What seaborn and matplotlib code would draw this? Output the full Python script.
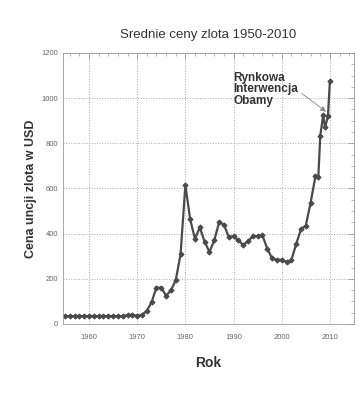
import numpy as np
import pandas as pd
import matplotlib.pyplot as plt
from matplotlib.ticker import MultipleLocator
import seaborn as sns

# Dane
lata = [1955, 1956, 1957, 1958, 1959, 1960, 1961, 1962, 1963, 1964,
        1965, 1966, 1967, 1968, 1969, 1970, 1971, 1972, 1973, 1974,
        1975, 1976, 1977, 1978, 1979, 1980, 1981, 1982, 1983, 1984,
        1985, 1986, 1987, 1988, 1989, 1990, 1991, 1992, 1993, 1994,
        1995, 1996, 1997, 1998, 1999, 2000, 2001, 2002, 2003, 2004,
        2005, 2006, 2007, 2007.6, 2008, 2008.6, 2009, 2009.6, 2010]
ceny = [35, 35, 35, 35, 35, 35, 35, 35, 35, 35,
        35, 35, 35, 39, 41, 36, 41, 58, 98, 161,
        161, 125, 149, 194, 308, 616, 463, 377, 428, 364,
        319, 370, 450, 440, 386, 388, 370, 350, 366, 389,
        389, 392, 334, 291, 283, 285, 275, 283, 354, 420,
        436, 537, 654, 651, 833, 924, 871, 920, 1078]

df = pd.DataFrame({"Rok": lata, "Cena": ceny})

sns.set_style("white")
plt.rcParams["font.family"] = ["Liberation Sans", "DejaVu Sans"]

fig = plt.figure(figsize=(3.59, 4.0), dpi=100)
ax = fig.add_axes([0.1755, 0.19, 0.8105, 0.6775])

sns.lineplot(data=df, x="Rok", y="Cena", ax=ax, color="#4a4a4a", linewidth=1.6,
             marker="D", markersize=2.6, markeredgecolor="#4a4a4a")

ax.set_xlim(1954.6, 2015)
ax.set_ylim(0, 1200)
ax.xaxis.set_major_locator(MultipleLocator(10))
ax.xaxis.set_minor_locator(MultipleLocator(2))
ax.yaxis.set_major_locator(MultipleLocator(200))
ax.yaxis.set_minor_locator(MultipleLocator(50))
ax.tick_params(which="both", direction="in", top=True, right=True,
               color="#999999", labelsize=5.5, labelcolor="#666666")
ax.tick_params(which="major", length=4, width=0.6)
ax.tick_params(which="minor", length=2.5, width=0.5)
ax.tick_params(axis="x", pad=7)
ax.grid(True, which="major", linestyle=":", color="#aaaaaa", linewidth=0.7)
for s in ax.spines.values():
    s.set_color("#999999")
    s.set_linewidth(0.6)

ax.set_title("Srednie ceny zlota 1950-2010", fontsize=9.5, color="#333333", pad=11)
ax.set_xlabel("Rok", fontsize=10, fontweight="bold", color="#333333", labelpad=11)
ax.set_ylabel("Cena uncji zlota w USD", fontsize=9, fontweight="bold",
              color="#333333", labelpad=3)

ax.annotate("Rynkowa\nInterwencja\nObamy", xy=(2009.2, 940), xytext=(1990.0, 1040),
            fontsize=8.5, fontweight="bold", color="#333333", ha="left", va="center",
            linespacing=0.95,
            arrowprops=dict(arrowstyle="-|>", color="#888888", lw=0.6,
                            mutation_scale=8, shrinkA=0, shrinkB=0,
                            relpos=(1.0, 0.45)))

fig.savefig("out.png", dpi=100)
